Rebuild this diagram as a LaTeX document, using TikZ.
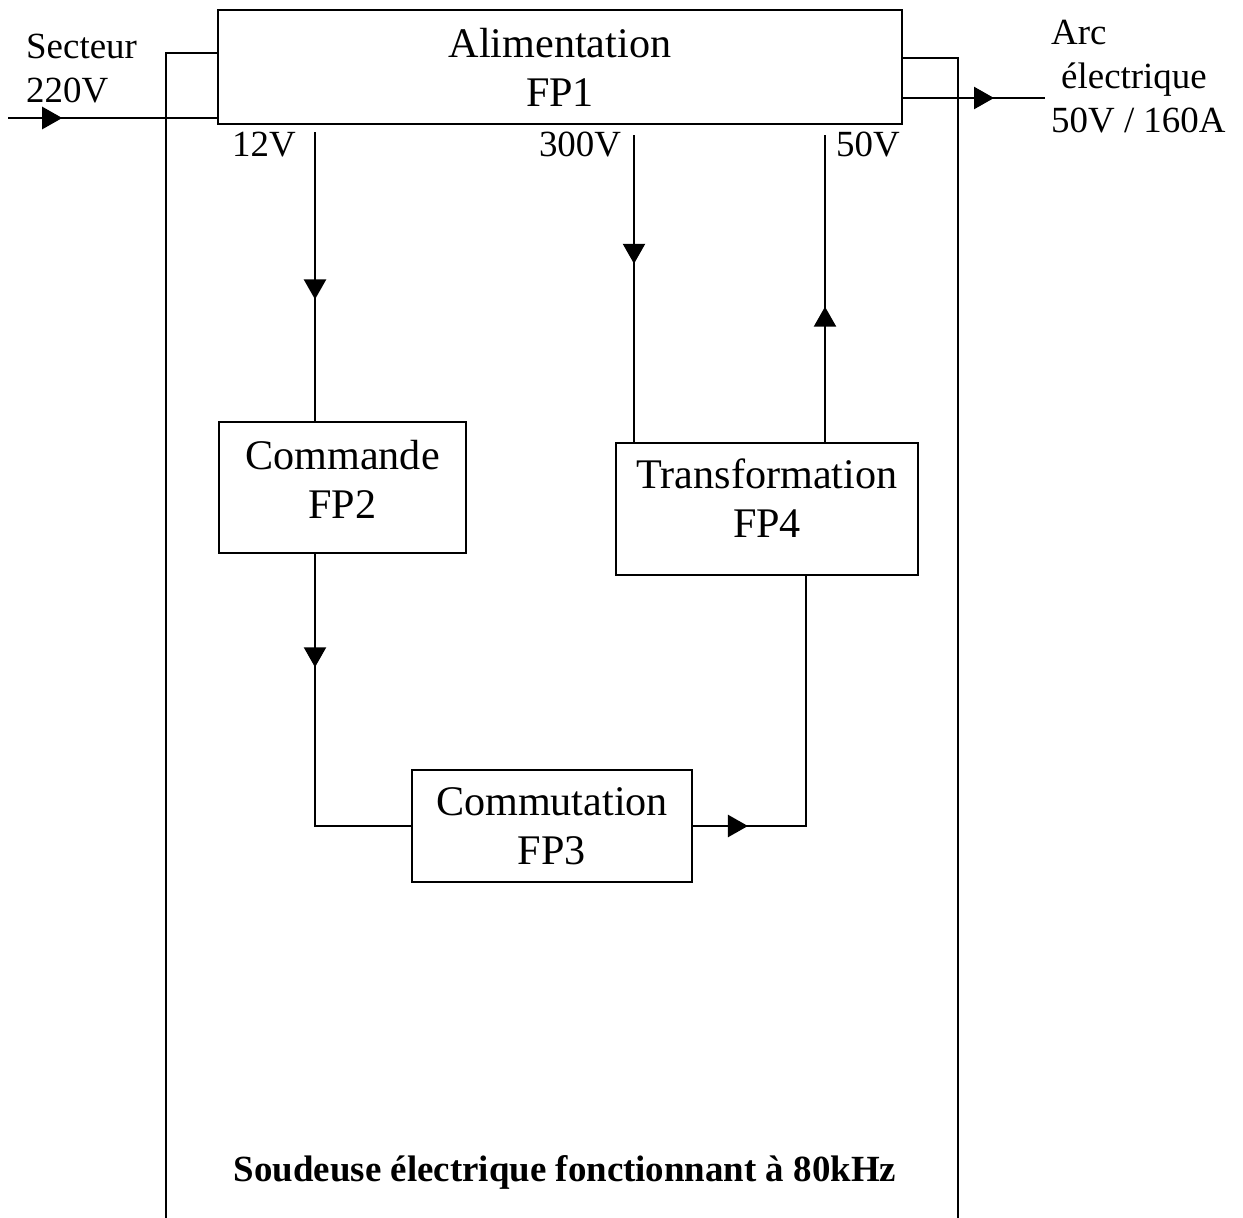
\documentclass[tikz,border=0pt]{standalone}
\usepackage{fontspec}
\setmainfont{Liberation Serif}
\usetikzlibrary{arrows.meta,calc,decorations.markings}

\tikzset{
  bloc/.style={draw,line width=0.8pt,align=center,font=\fontsize{12}{14}\selectfont,inner sep=0pt},
  etiq/.style={font=\fontsize{10.5}{12.5}\selectfont,inner sep=0pt},
  fleche/.style={postaction={decorate},decoration={markings,
      mark=at position #1 with {\arrow{Triangle[length=2mm,width=2.2mm]}}}}
}

\begin{document}
\begin{tikzpicture}[line width=0.7pt]
    \useasboundingbox (0,0) rectangle (12.43,-12.18);
    % blocs fonctionnels
    \node[bloc,minimum width=6.84cm,minimum height=1.14cm] (fp1) at (5.60,-0.67) {Alimentation\\FP1};
    \node[bloc,minimum width=2.47cm,minimum height=1.31cm,text depth=0.17cm] (fp2) at (3.425,-4.875) {Commande\\FP2};
    \node[bloc,minimum width=2.80cm,minimum height=1.12cm] (fp3) at (5.52,-8.26) {Commutation\\FP3};
    \node[bloc,minimum width=3.02cm,minimum height=1.32cm,text depth=0.22cm] (fp4) at (7.67,-5.09) {Transformation\\FP4};
    % cadre du systeme
    \draw (1.66,-12.18) -- (1.66,-0.53) -- (fp1.west |- 0,-0.53);
    \draw (fp1.east |- 0,-0.58) -- (9.58,-0.58) -- (9.58,-12.18);
    % entree / sortie
    \coordinate (sect) at (0.08,-1.18);
    \coordinate (arc) at (10.45,-0.98);
    \draw[fleche=0.26] (sect) -- (fp1.west |- sect);
    \draw[fleche=0.64] (fp1.east |- arc) -- (arc);
    \node[etiq,anchor=west,align=left] (lsect) at (0.25,-0.69) {Secteur\\220V};
    \node[etiq,anchor=west,align=left] (larc) at (10.50,-0.77) {Arc\\\hspace*{0.1cm}électrique\\50V / 160A};
    % tensions
    \coordinate (t12) at (3.15,-1.32);
    \coordinate (t300) at (6.34,-1.35);
    \coordinate (t50) at (8.25,-1.35);
    \node[etiq] (l12) at (2.64,-1.45) {12V};
    \node[etiq] (l300) at (5.80,-1.45) {300V};
    \node[etiq] (l50) at (8.68,-1.45) {50V};
    \draw[fleche=0.58] (t12) -- (t12 |- fp2.north);
    \draw[fleche=0.42] (t300) -- (t300 |- fp4.north);
    \draw[fleche=0.44] (t50 |- fp4.north) -- (t50);
    % liaisons entre blocs
    \draw[fleche=0.31] (3.15,-5.53) |- (fp3.west);
    \draw[fleche=0.15] (fp3.east) -| (8.06,-5.75);
    \node[font=\fontsize{10.5}{12.5}\selectfont\bfseries] (titre) at (5.65,-11.72) {Soudeuse électrique fonctionnant à 80kHz};
\end{tikzpicture}
\end{document}
